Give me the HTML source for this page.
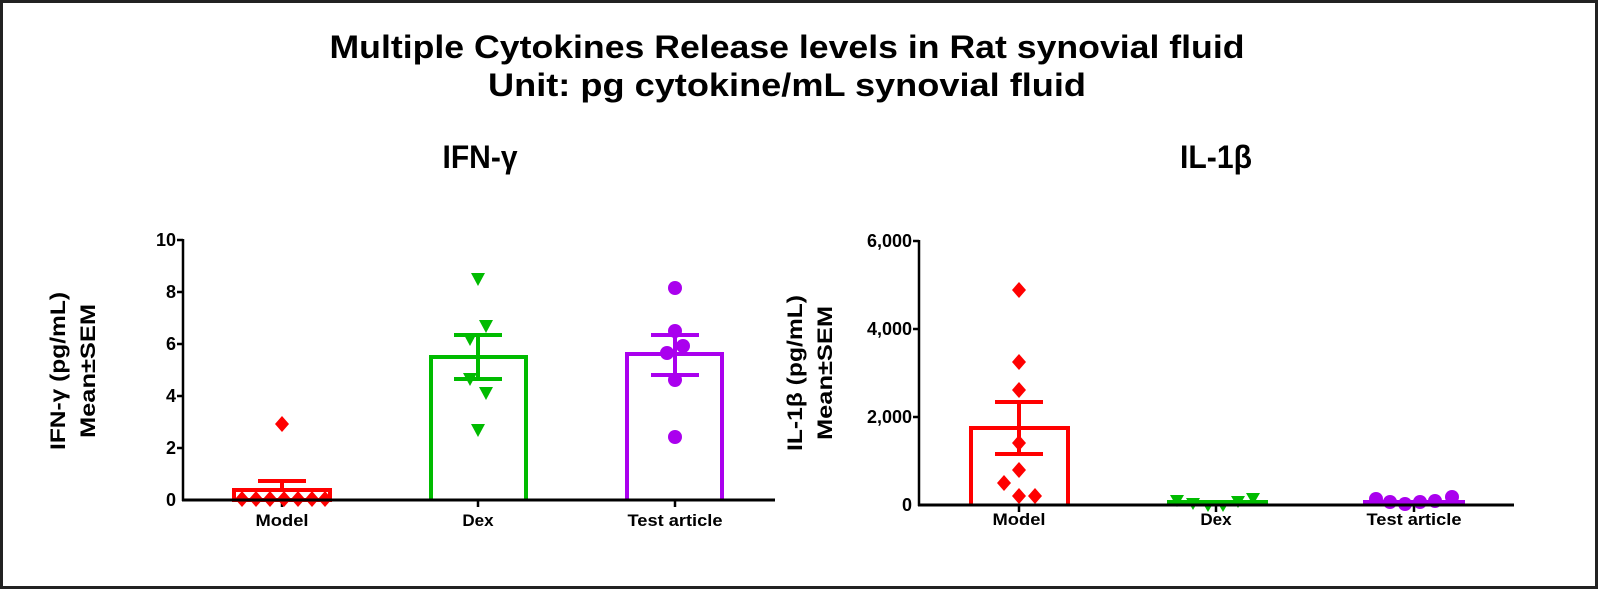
<!DOCTYPE html>
<html><head><meta charset="utf-8"><style>
html,body{margin:0;padding:0;background:#fff;}
svg{display:block;}
text{font-family:"Liberation Sans",Arial,sans-serif;font-weight:bold;fill:#000;}
</style></head><body>
<svg width="1600" height="591" viewBox="0 0 1600 591" xmlns="http://www.w3.org/2000/svg">
<rect x="1.5" y="1.5" width="1595" height="586" fill="#fff" stroke="#222" stroke-width="3"/>
<text x="787" y="58" font-size="32" text-anchor="middle" textLength="915" lengthAdjust="spacingAndGlyphs">Multiple Cytokines Release levels in Rat synovial fluid</text>
<text x="787" y="96" font-size="32" text-anchor="middle" textLength="598" lengthAdjust="spacingAndGlyphs">Unit: pg cytokine/mL synovial fluid</text>
<text x="480" y="168" font-size="32" text-anchor="middle" textLength="75" lengthAdjust="spacingAndGlyphs">IFN-γ</text>
<text x="1216" y="168" font-size="32" text-anchor="middle" textLength="72" lengthAdjust="spacingAndGlyphs">IL-1β</text>

<!-- LEFT CHART -->
<g transform="translate(65,371) rotate(-90)"><text x="0" y="0" font-size="21" text-anchor="middle" textLength="158" lengthAdjust="spacingAndGlyphs">IFN-γ (pg/mL)</text><text x="0" y="30" font-size="21" text-anchor="middle" textLength="134" lengthAdjust="spacingAndGlyphs">Mean±SEM</text></g>
<g font-size="18" text-anchor="end">
<text x="176" y="246">10</text><text x="176" y="298">8</text><text x="176" y="350">6</text><text x="176" y="402">4</text><text x="176" y="454">2</text><text x="176" y="506">0</text>
</g>
<g stroke="#000" stroke-width="2.5">
<line x1="183" y1="239" x2="183" y2="501"/>
<line x1="177" y1="240" x2="183" y2="240"/><line x1="177" y1="292" x2="183" y2="292"/><line x1="177" y1="344" x2="183" y2="344"/><line x1="177" y1="396" x2="183" y2="396"/><line x1="177" y1="448" x2="183" y2="448"/>
<line x1="282" y1="500" x2="282" y2="507"/><line x1="478" y1="500" x2="478" y2="507"/><line x1="675" y1="500" x2="675" y2="507"/>
</g>
<!-- Model -->
<g fill="none" stroke="#f00" stroke-width="4">
<rect x="234" y="490" width="96" height="10"/>
<line x1="282" y1="490" x2="282" y2="481"/><line x1="258" y1="481" x2="306" y2="481"/>
</g>
<g fill="#f00">
<path d="M282 416 l7 8 -7 8 -7 -8z"/>
<path d="M242 491 l7 8 -7 8 -7 -8z"/><path d="M256 491 l7 8 -7 8 -7 -8z"/><path d="M270 491 l7 8 -7 8 -7 -8z"/><path d="M284 491 l7 8 -7 8 -7 -8z"/><path d="M298 491 l7 8 -7 8 -7 -8z"/><path d="M312 491 l7 8 -7 8 -7 -8z"/><path d="M325 491 l7 8 -7 8 -7 -8z"/>
</g>
<!-- Dex -->
<g fill="none" stroke="#0b0" stroke-width="4">
<path d="M431 500 V357 H526 V500"/>
<line x1="478" y1="335" x2="478" y2="379"/><line x1="454" y1="335" x2="502" y2="335"/><line x1="454" y1="379" x2="502" y2="379"/>
</g>
<g fill="#0b0">
<path d="M471 273 h14 l-7 13z"/><path d="M479 320 h14 l-7 13z"/><path d="M463 333 h14 l-7 13z"/><path d="M463 373 h14 l-7 13z"/><path d="M479 387 h14 l-7 13z"/><path d="M471 424 h14 l-7 13z"/>
</g>
<!-- Test -->
<g fill="none" stroke="#a0e" stroke-width="4">
<path d="M627 500 V354 H722 V500"/>
<line x1="675" y1="335" x2="675" y2="375"/><line x1="651" y1="335" x2="699" y2="335"/><line x1="651" y1="375" x2="699" y2="375"/>
</g>
<g fill="#a0e">
<circle cx="675" cy="288" r="7"/><circle cx="675" cy="331" r="7"/><circle cx="683" cy="346" r="7"/><circle cx="667" cy="353" r="7"/><circle cx="675" cy="380" r="7"/><circle cx="675" cy="437" r="7"/>
</g>
<line x1="182" y1="500" x2="775" y2="500" stroke="#000" stroke-width="3"/>
<g font-size="17" text-anchor="middle">
<text x="282" y="526" textLength="53" lengthAdjust="spacingAndGlyphs">Model</text><text x="478" y="526">Dex</text><text x="675" y="526" textLength="95" lengthAdjust="spacingAndGlyphs">Test article</text>
</g>

<!-- RIGHT CHART -->
<g transform="translate(802,373) rotate(-90)"><text x="0" y="0" font-size="21" text-anchor="middle" textLength="156" lengthAdjust="spacingAndGlyphs">IL-1β (pg/mL)</text><text x="0" y="30" font-size="21" text-anchor="middle" textLength="134" lengthAdjust="spacingAndGlyphs">Mean±SEM</text></g>
<g font-size="18" text-anchor="end">
<text x="912" y="247">6,000</text><text x="912" y="335">4,000</text><text x="912" y="423">2,000</text><text x="912" y="511">0</text>
</g>
<g stroke="#000" stroke-width="2.5">
<line x1="919" y1="240" x2="919" y2="506"/>
<line x1="913" y1="241" x2="919" y2="241"/><line x1="913" y1="329" x2="919" y2="329"/><line x1="913" y1="417" x2="919" y2="417"/>
<line x1="1019" y1="505" x2="1019" y2="512"/><line x1="1216" y1="505" x2="1216" y2="512"/><line x1="1414" y1="505" x2="1414" y2="512"/>
</g>
<g fill="none" stroke="#f00" stroke-width="4">
<path d="M971 505 V428 H1068 V505"/>
<line x1="1019" y1="402" x2="1019" y2="454"/><line x1="995" y1="402" x2="1043" y2="402"/><line x1="995" y1="454" x2="1043" y2="454"/>
</g>
<g fill="#f00">
<path d="M1019 282 l7 8 -7 8 -7 -8z"/><path d="M1019 354 l7 8 -7 8 -7 -8z"/><path d="M1019 382 l7 8 -7 8 -7 -8z"/><path d="M1019 435 l7 8 -7 8 -7 -8z"/><path d="M1019 462 l7 8 -7 8 -7 -8z"/><path d="M1004 475 l7 8 -7 8 -7 -8z"/><path d="M1019 488 l7 8 -7 8 -7 -8z"/><path d="M1035 488 l7 8 -7 8 -7 -8z"/>
</g>
<g fill="#0b0">
<rect x="1167" y="500" width="101" height="5"/>
<path d="M1170 495 h14 l-7 12z"/><path d="M1186 498 h14 l-7 12z"/><path d="M1201 500 h14 l-7 12z"/><path d="M1216 500 h14 l-7 12z"/><path d="M1231 496 h14 l-7 12z"/><path d="M1246 493 h14 l-7 12z"/>
</g>
<g fill="#a0e">
<rect x="1363" y="500" width="102" height="5"/>
<circle cx="1376" cy="499" r="7"/><circle cx="1390" cy="502" r="7"/><circle cx="1405" cy="504" r="7"/><circle cx="1420" cy="502" r="7"/><circle cx="1435" cy="501" r="7"/><circle cx="1452" cy="497" r="7"/>
</g>
<line x1="918" y1="505" x2="1514" y2="505" stroke="#000" stroke-width="3"/>
<g font-size="17" text-anchor="middle">
<text x="1019" y="525" textLength="53" lengthAdjust="spacingAndGlyphs">Model</text><text x="1216" y="525">Dex</text><text x="1414" y="525" textLength="95" lengthAdjust="spacingAndGlyphs">Test article</text>
</g>
</svg>
</body></html>
